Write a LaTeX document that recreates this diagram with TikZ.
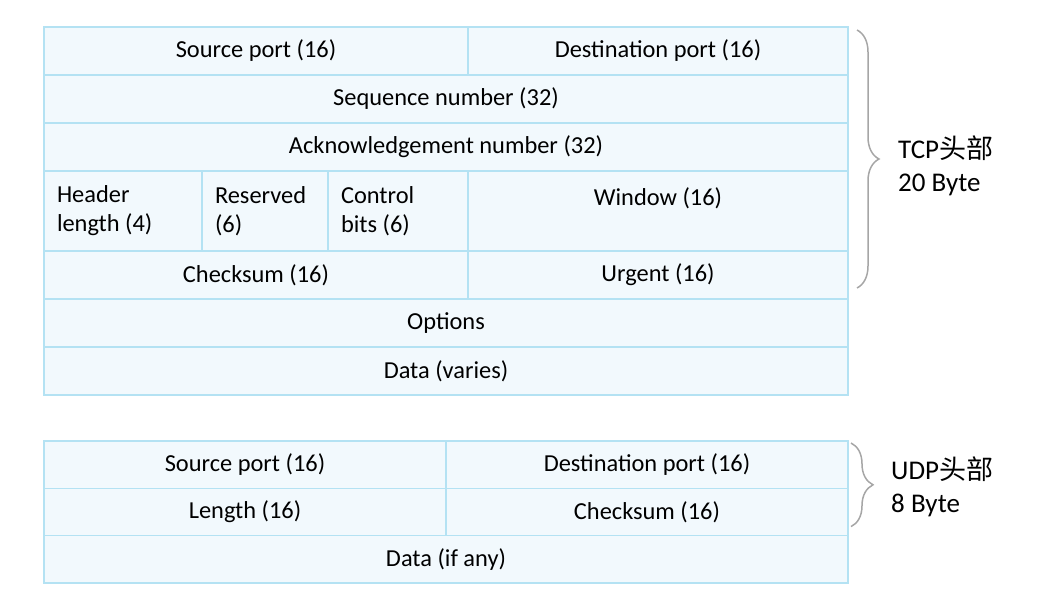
\documentclass[tikz,border=0pt]{standalone}
\usepackage{fontspec}
\setmainfont{Carlito}
\newfontfamily\cjk{Noto Sans CJK SC}
\usetikzlibrary{positioning, decorations.pathreplacing}
\definecolor{cellfill}{RGB}{242,249,253}
\definecolor{cellline}{RGB}{180,226,243}
\definecolor{bracegray}{RGB}{166,166,166}

\begin{document}
\begin{tikzpicture}[
        x=1pt, y=-1pt,
        % one field of a header
        cell/.style={
            draw=cellline,
            fill=cellfill,
            line width=1.3pt,
            minimum height=48pt,
            inner sep=0pt,
            outer sep=0pt,
            font=\fontsize{24.4}{29}\selectfont
        },
        % the row with two-line fields
        tallcell/.style={cell, minimum height=80pt, align=flush left, inner xsep=13pt},
        udpcell/.style={cell, minimum height=47.3pt},
        % curly brace on the right
        hdrbrace/.style={
            draw=bracegray,
            line width=1.5pt,
            decorate,
            decoration={brace, amplitude=22pt}
        },
        sizelabel/.style={align=flush left, inner sep=0pt, font=\fontsize{27}{33}\selectfont},
    ]
    \useasboundingbox (0,0) rectangle (1039,611);

    % TCP header
    \node[cell, minimum width=424pt, anchor=north west] (srcport) at (44,27) {Source port (16)};
    \node[cell, minimum width=380pt, right=0pt of srcport] (dstport) {Destination port (16)};
    \node[cell, minimum width=804pt, below right=0pt and 0pt of srcport.south west] (seqnum) {Sequence number (32)};
    \node[cell, minimum width=804pt, below right=0pt and 0pt of seqnum.south west] (acknum) {Acknowledgement number (32)};

    \node[tallcell, minimum width=158pt, text width=132pt, below right=0pt and 0pt of acknum.south west] (hdrlen) {Header\\length (4)};
    \node[tallcell, minimum width=126pt, text width=100pt, right=0pt of hdrlen] (reserved) {Reserved\\(6)};
    \node[tallcell, minimum width=140pt, text width=114pt, right=0pt of reserved] (ctrlbits) {Control\\bits (6)};
    \node[tallcell, minimum width=380pt, text width=354pt, align=flush center, right=0pt of ctrlbits] (window) {Window (16)\\ \mbox{}};

    \node[cell, minimum width=424pt, below right=0pt and 0pt of hdrlen.south west] (checksum) {Checksum (16)};
    \node[cell, minimum width=380pt, right=0pt of checksum] (urgent) {Urgent (16)};
    \node[cell, minimum width=804pt, below right=0pt and 0pt of checksum.south west] (options) {Options};
    \node[cell, minimum width=804pt, below right=0pt and 0pt of options.south west] (tcpdata) {Data (varies)};

    % UDP header
    \node[udpcell, minimum width=402pt, anchor=north west] (udpsrc) at (44,441) {Source port (16)};
    \node[udpcell, minimum width=402pt, right=0pt of udpsrc] (udpdst) {Destination port (16)};
    \node[udpcell, minimum width=402pt, below right=0pt and 0pt of udpsrc.south west] (udplen) {Length (16)};
    \node[udpcell, minimum width=402pt, right=0pt of udplen] (udpsum) {Checksum (16)};
    \node[udpcell, minimum width=804pt, below right=0pt and 0pt of udplen.south west] (udpdata) {Data (if any)};

    % braces and sizes
    \draw[hdrbrace] ([xshift=9pt, yshift=-3pt]dstport.north east) -- ([xshift=9pt, yshift=11pt]urgent.south east);
    \draw[hdrbrace] ([xshift=3pt, yshift=-2pt]udpdst.north east) -- ([xshift=3pt, yshift=9pt]udpsum.south east);

    \node[sizelabel, anchor=west] (tcplabel) at (898,166) {TCP{\cjk 头部}\\20 Byte};
    \node[sizelabel, anchor=west] (udplabel) at (891,487) {UDP{\cjk 头部}\\8 Byte};

\end{tikzpicture}
\end{document}
